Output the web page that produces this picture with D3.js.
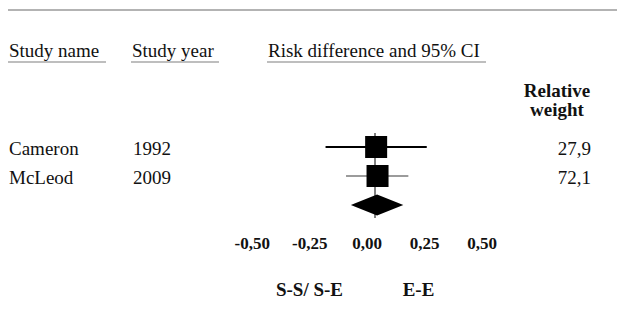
<!DOCTYPE html>
<html>
<head>
<meta charset="utf-8">
<script src="https://cdn.jsdelivr.net/npm/d3@7"></script>
<style>
  body { margin: 0; background: #fff; }
</style>
</head>
<body>
<svg id="chart" width="617" height="321"></svg>
<script>
// Study data: risk difference with 95% CI and relative weight (%)
const studies = ["Cameron", "McLeod"];
const years = ["1992", "2009"];
const effect = [0.005, 0.011];
const lower = [-0.215, -0.126];
const upper = [0.225, 0.145];
const weights = [27.9, 72.1];

// Pooled estimate
const pooledEffect = [0.009];
const pooledLower = [-0.105];
const pooledUpper = [0.123];

// Axis ticks and side labels
const tickValues = [-0.5, -0.25, 0, 0.25, 0.5];
const sideLabels = ["S-S/ S-E", "E-E"];
const sideAt = [-0.25, 0.25];

const headers = ["Study name", "Study year", "Risk difference and 95% CI"];

const SERIF_REGULAR = "Times New Roman";
const SERIF_BOLD = "Liberation Serif";
const INK = "#111";

const svg = d3.select("#chart");
const W = 617;

const locale = d3.formatLocale({ decimal: ",", thousands: ".", grouping: [3], currency: ["", ""], minus: "-" });
const fmt2 = locale.format(".2f");
const fmt1 = locale.format(".1f");

function addText(sel, xPos, yPos, txt, opts = {}) {
  const t = sel.append("text")
    .attr("x", xPos).attr("y", yPos)
    .attr("font-family", opts.bold ? SERIF_BOLD : SERIF_REGULAR)
    .attr("font-size", opts.size || 19)
    .text(txt);
  if (opts.anchor) t.attr("text-anchor", opts.anchor);
  if (opts.bold) t.attr("font-weight", "bold");
  return t;
}

// Scales
const x = d3.scaleLinear().domain([-0.5, 0.5]).range([260, 490]);
const rows = studies.concat(["pooled"]);
const y = d3.scalePoint().domain(rows).range([147, 205]);

// Text layer first, marks afterwards
const textLayer = svg.append("g").attr("fill", INK);

// Column headers
const headerX = [9, 132, 268];
const headerEnd = [106, 219, 486];
headers.forEach((h, i) => addText(textLayer, headerX[i], 57, h));

// Relative weight header
addText(textLayer, 557, 97, "Relative", { bold: true, anchor: "middle" });
addText(textLayer, 557, 116, "weight", { bold: true, anchor: "middle" });

// Study names, years, weights
studies.forEach((s, i) => {
  const yy = y(s) + 7.5;
  addText(textLayer, 9, yy, s);
  addText(textLayer, 133, yy, years[i]);
  addText(textLayer, 591, yy, fmt1(weights[i]), { anchor: "end" });
});

// Direction labels
const sideDx = [-8, -14];
sideLabels.forEach((l, i) => {
  addText(textLayer, x(sideAt[i]) + sideDx[i], 296, l, { bold: true, anchor: "middle" });
});

// Top rule
svg.append("line")
  .attr("x1", 8).attr("x2", W).attr("y1", 10).attr("y2", 10)
  .attr("stroke", "#9a9a9a").attr("stroke-width", 1.5);

// Header underlines
headers.forEach((h, i) => {
  svg.append("line")
    .attr("x1", headerX[i] - 1).attr("x2", headerEnd[i])
    .attr("y1", 62).attr("y2", 62)
    .attr("stroke", "#a8a8a8").attr("stroke-width", 1.5);
});

// Zero reference line
svg.append("line")
  .attr("x1", x(0)).attr("x2", x(0))
  .attr("y1", y(studies[0]) - 14).attr("y2", y("pooled") + 13)
  .attr("stroke", "#000").attr("stroke-width", 1);

// Confidence intervals and boxes
const ciStroke = ["#000", "#7a7a7a"];
const ciWidth = [1.8, 1.4];
const boxSize = 22;
studies.forEach((s, i) => {
  svg.append("line")
    .attr("x1", x(lower[i])).attr("x2", x(upper[i]))
    .attr("y1", y(s)).attr("y2", y(s))
    .attr("stroke", ciStroke[i]).attr("stroke-width", ciWidth[i]);
  svg.append("rect")
    .attr("x", x(effect[i]) - boxSize / 2)
    .attr("y", y(s) - boxSize / 2)
    .attr("width", boxSize).attr("height", boxSize)
    .attr("fill", "#000");
});

// Pooled diamond
const py = y("pooled");
const dh = 10.5;
svg.append("path")
  .attr("d", `M${x(pooledLower[0])},${py} L${x(pooledEffect[0])},${py - dh} L${x(pooledUpper[0])},${py} L${x(pooledEffect[0])},${py + dh} Z`)
  .attr("fill", "#000");

// Axis tick labels
const axis = d3.axisBottom(x)
  .tickValues(tickValues)
  .tickSize(0)
  .tickFormat(fmt2);
const axG = svg.append("g").attr("transform", "translate(0,234)").call(axis);
axG.select(".domain").remove();
axG.attr("font-family", SERIF_BOLD).attr("font-size", 17);
axG.selectAll("text")
  .attr("dx", -8.3)
  .attr("font-weight", "bold")
  .attr("fill", INK);
</script>
</body>
</html>
